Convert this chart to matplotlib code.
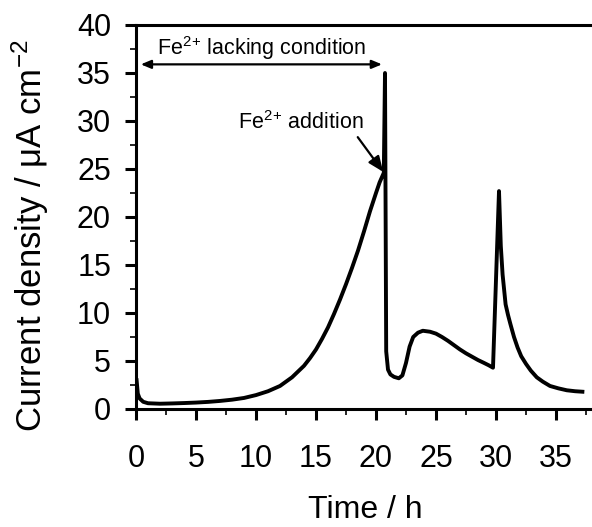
import matplotlib.pyplot as plt
from matplotlib.ticker import MultipleLocator

plt.rcParams['font.family'] = ['Liberation Sans', 'DejaVu Sans']
plt.rcParams['mathtext.fontset'] = 'custom'
plt.rcParams['mathtext.rm'] = 'Liberation Sans'
plt.rcParams['mathtext.it'] = 'Liberation Sans:italic'

# chronoamperometry trace, time in h, current density in uA cm-2
time_h = [0.05, 0.15, 0.3, 0.6, 1.0, 2.0, 3.0, 4.0, 5.0, 6.0, 7.0, 8.0, 9.0,
          10.0, 11.0, 12.0, 13.0, 14.0, 14.5, 15.0, 15.5, 16.0, 16.5, 17.0,
          17.5, 18.0, 18.5, 19.0, 19.5, 20.0, 20.3, 20.65, 20.75, 20.85,
          21.0, 21.2, 21.5, 21.9, 22.2, 22.5, 22.8, 23.1, 23.5, 23.9, 24.5,
          25.0, 25.5, 26.0, 26.5, 27.0, 27.5, 28.0, 28.5, 29.0, 29.4, 29.75,
          30.25, 30.4, 30.55, 30.8, 31.0, 31.2, 31.5, 31.8, 32.1, 32.5, 32.9,
          33.4, 33.9, 34.5, 35.2, 35.9, 36.6, 37.2]
current = [3.0, 1.6, 1.1, 0.75, 0.6, 0.55, 0.58, 0.62, 0.67, 0.74, 0.84, 0.97,
           1.15, 1.45, 1.85, 2.4, 3.3, 4.5, 5.3, 6.2, 7.3, 8.5, 9.9, 11.4,
           13.0, 14.7, 16.5, 18.5, 20.6, 22.5, 23.6, 24.6, 35.0, 6.0, 4.1,
           3.6, 3.35, 3.2, 3.5, 4.8, 6.5, 7.5, 7.95, 8.15, 8.05, 7.85, 7.5,
           7.1, 6.65, 6.2, 5.8, 5.45, 5.1, 4.8, 4.55, 4.3, 22.7, 17.0, 14.0,
           10.9, 9.8, 8.85, 7.5, 6.4, 5.5, 4.7, 4.0, 3.3, 2.85, 2.4, 2.15,
           1.95, 1.85, 1.8]

fig = plt.figure(figsize=(5.92, 5.27), dpi=100)
ax = fig.add_axes([136 / 592, 118 / 527, 456 / 592, 384 / 527])

ax.plot(time_h, current, color='black', lw=2.8, solid_joinstyle='round')

ax.set_xlim(0, 38)
ax.set_ylim(0, 40)
ax.xaxis.set_major_locator(MultipleLocator(5))
ax.xaxis.set_minor_locator(MultipleLocator(2.5))
ax.yaxis.set_major_locator(MultipleLocator(5))
ax.yaxis.set_minor_locator(MultipleLocator(2.5))

ax.spines['right'].set_visible(False)
for s in ['left', 'bottom', 'top']:
    ax.spines[s].set_linewidth(2.2)
ax.tick_params(which='major', direction='out', length=8, width=2.2,
               labelsize=22)
ax.tick_params(which='minor', direction='out', length=4, width=1.2)
ax.tick_params(axis='y', which='major', pad=10)
ax.tick_params(axis='x', which='major', pad=17)
ax.tick_params(top=False, right=False, which='both')

ax.set_xlabel('Time / h', fontsize=23, va='center')
ax.xaxis.set_label_coords(0.502, -0.262)
ax.set_ylabel('Current density / μA cm$^{-2}$', fontsize=25, va='center')
ax.yaxis.set_label_coords(-0.232, 0.45)

# span before the iron was added
ax.annotate('', xy=(0.4, 35.9), xytext=(20.5, 35.9),
            arrowprops=dict(arrowstyle='<|-|>,head_length=0.6,head_width=0.25',
                            color='black', lw=1.6, shrinkA=0, shrinkB=0))
ax.text(10.5, 37.6, 'Fe$^{2}$$^{+}$ lacking condition', fontsize=15.5,
        ha='center', va='center')

ax.annotate('Fe$^{2}$$^{+}$ addition', xy=(20.6, 24.7), xytext=(13.7, 29.8),
            fontsize=15.5, ha='center', va='center',
            arrowprops=dict(arrowstyle='-|>,head_length=0.6,head_width=0.25',
                            color='black', lw=1.6, shrinkA=0, shrinkB=0,
                            relpos=(0.94, 0.0)))

fig.savefig('out.png', dpi=100)
